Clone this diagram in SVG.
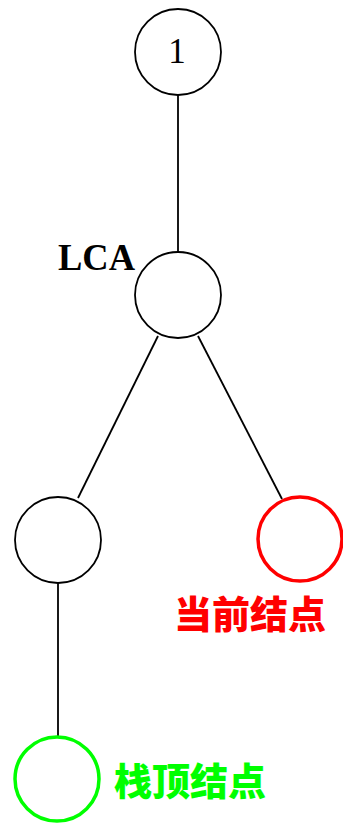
<svg xmlns="http://www.w3.org/2000/svg" width="343" height="830" viewBox="0 0 343 830">
<style>
.n{fill:#fff;stroke:#000;stroke-width:1.8}
.e{stroke:#000;stroke-width:1.8;fill:none}
.t{font-family:"Liberation Serif","Noto Serif",serif;fill:#000}
.cjk{font-family:"Noto Sans CJK SC",sans-serif;font-weight:900;font-size:38px}
</style>
<rect width="343" height="830" fill="#fff"/>
<g id="connectors">
<line class="e" x1="178" y1="95" x2="178" y2="252"/>
<line class="e" x1="158" y1="336" x2="78" y2="498"/>
<line class="e" x1="198" y1="336" x2="282" y2="499"/>
<line class="e" x1="58" y1="583" x2="58" y2="736"/>
</g>
<g id="node1">
<circle class="n" cx="178" cy="52" r="43"/>
<text class="t" x="177" y="63" font-size="35" text-anchor="middle">1</text>
</g>
<g id="lca">
<circle class="n" cx="178" cy="295" r="43"/>
<text class="t" x="58" y="270" font-size="38" font-weight="bold" textLength="77" lengthAdjust="spacingAndGlyphs">LCA</text>
</g>
<g id="left">
<circle class="n" cx="58" cy="540" r="43"/>
</g>
<g id="current">
<circle cx="300" cy="539" r="42" fill="#fff" stroke="#f00" stroke-width="3.5"/>
<text class="cjk" x="250" y="628" fill="#f00" text-anchor="middle">当前结点</text>
</g>
<g id="top">
<circle cx="57" cy="779" r="42" fill="#fff" stroke="#0f0" stroke-width="3.5"/>
<text class="cjk" x="190" y="795" fill="#0f0" text-anchor="middle">栈顶结点</text>
</g>
</svg>
